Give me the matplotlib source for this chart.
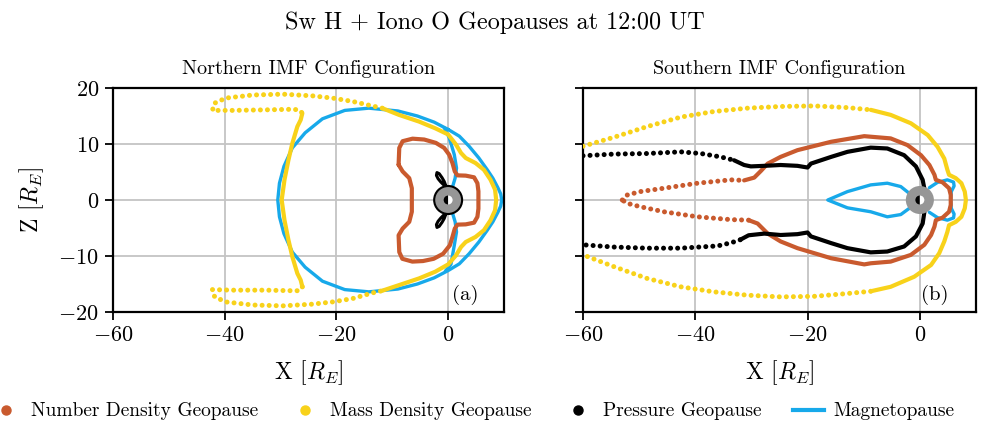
import matplotlib
matplotlib.use("Agg")
import matplotlib.pyplot as plt
from matplotlib.lines import Line2D
from matplotlib.patches import Circle, Wedge


# --------------------------------
# STYLE
# --------------------------------

plt.rcParams["font.family"] = ["cmr10", "DejaVu Serif"]
plt.rcParams["mathtext.fontset"] = "cm"
plt.rcParams["axes.unicode_minus"] = True
plt.rcParams["axes.formatter.use_mathtext"] = True

C_NUM = "#C95A2E"
C_MASS = "#F8D21A"
C_PRES = "#000000"
C_MP = "#17A9EA"
C_EARTH = "#969696"


# --------------------------------
# DATA  (X, Z in Earth radii)
# --------------------------------

x_ticks = [-60, -40, -20, 0]
z_ticks = [-20, -10, 0, 10, 20]

# ---- Northern IMF ----

n_num_x = [-8.87, -8.75, -8.15, -6.37, -4.29, -2.2, -0.71, 0.18, 0.77, 1.19, 1.67, 3.15, 4.64, 5.24, 5.42,
           5.42, 5.42, 5.24, 4.64, 3.15, 1.67, 1.19, 0.77, 0.3, -0.9, -2.6, -4.5, -6.4, -8.2, -8.75,
           -8.87, -8.15, -6.96, -6.5, -6.5, -6.5, -6.96, -8.15, -8.87]
n_num_z = [6.3, 9.3, 10.5, 10.95, 10.8, 10.2, 9.3, 8.1, 6.6, 5.1, 4.4, 4.35, 4.05, 3.0, 1.55,
           0.0, -1.55, -3.0, -4.05, -4.35, -4.4, -5.1, -6.6, -8.1, -9.6, -10.5, -10.9, -11.0, -10.5, -9.3,
           -6.3, -5.1, -3.9, -2.1, 0.0, 2.1, 3.9, 5.1, 6.3]

n_mass_top_x = [-11.8, -13.6, -17.1, -20.7, -24.3, -29.6, -35.0, -39.8, -41.8, -42.2,
                -38.6, -32.6, -27.9, -26.7, -26.1]
n_mass_top_z = [16.4, 16.8, 17.6, 18.2, 18.6, 18.9, 18.75, 18.2, 17.3, 16.0,
                16.0, 16.1, 16.2, 16.1, 15.5]

n_mass_side_x = [-26.1, -26.4, -27.0, -27.9, -28.6, -29.3, -29.8, -29.3, -28.6, -27.9, -27.0, -26.4, -26.1]
n_mass_side_z = [15.5, 14.3, 13.1, 10.1, 7.1, 3.6, 0.0, -3.6, -7.1, -10.1, -13.1, -14.3, -15.5]

n_mass_bot_x = [-26.1, -26.7, -27.9, -32.6, -38.6, -42.2, -41.8, -39.8, -35.0, -29.6,
                -24.3, -20.7, -17.1, -13.6, -11.8]
n_mass_bot_z = [-15.5, -16.2, -16.2, -16.1, -16.1, -16.0, -17.3, -18.2, -18.75, -18.9,
                -18.6, -18.2, -17.6, -16.6, -16.2]

n_mass_day_x = [-11.8, -8.8, -5.2, -2.3, 0.0, 1.4, 2.3, 3.15, 4.9, 6.4, 7.6, 8.4, 8.6,
                8.4, 7.6, 6.4, 4.9, 3.15, 2.3, 1.4, 0.0, -2.3, -5.2, -8.8, -11.8]
n_mass_day_z = [-16.2, -15.2, -14.0, -12.8, -11.5, -9.9, -8.4, -7.5, -6.6, -5.4, -3.6, -1.85, 0.0,
                1.85, 3.6, 5.4, 6.6, 7.5, 8.4, 9.9, 11.7, 12.8, 14.0, 15.2, 16.4]

n_pres_up_x = [-0.4, -0.7, -1.1, -1.6, -2.0, -2.1, -1.8, -1.3, -0.8, -0.4]
n_pres_up_z = [2.5, 3.3, 4.0, 4.7, 4.9, 4.4, 3.8, 3.2, 2.7, 2.5]
n_pres_lo_x = [-0.4, -0.7, -1.1, -1.6, -2.0, -2.1, -1.8, -1.3, -0.8, -0.4]
n_pres_lo_z = [-2.5, -3.3, -4.0, -4.7, -4.9, -4.4, -3.8, -3.2, -2.7, -2.5]

n_mp_x = [0.0, -2.5, -5.5, -9.0, -14.2, -18.5, -22.5, -25.6, -27.9, -29.4, -30.2, -30.5,
          -30.2, -29.4, -27.9, -25.6, -22.5, -18.5, -14.2, -9.0, -5.5, -2.5, 0.0,
          2.0, 3.75, 5.5, 7.0, 8.0, 8.9, 9.4, 9.6,
          9.4, 8.9, 8.0, 7.0, 5.5, 3.75, 2.0, 0.0]
n_mp_z = [12.6, 13.9, 15.0, 15.9, 16.4, 16.0, 14.5, 12.0, 9.3, 6.0, 3.0, 0.0,
          -3.0, -6.0, -9.3, -12.0, -14.5, -16.0, -16.4, -15.9, -15.0, -13.9, -12.6,
          -11.4, -9.6, -7.5, -5.4, -3.9, -2.2, -1.1, 0.0,
          1.1, 2.2, 3.9, 5.4, 7.5, 9.6, 11.4, 12.6]

n_cusp_up_x = [-0.7, 0.2, 1.1, 1.5, 1.25, 0.8]
n_cusp_up_z = [12.9, 11.1, 8.1, 5.7, 3.9, 2.4]
n_cusp_lo_x = [0.8, 1.25, 1.5, 1.1, 0.5, -0.5]
n_cusp_lo_z = [-2.4, -3.9, -5.7, -8.1, -11.5, -12.7]

# ---- Southern IMF ----

s_mass_top_x = [-60.0, -54.5, -48.6, -42.6, -36.7, -30.7, -24.8, -18.8, -12.9, -8.75]
s_mass_top_z = [9.6, 11.2, 13.1, 14.8, 15.8, 16.4, 16.7, 16.8, 16.5, 16.1]

s_mass_day_x = [-8.75, -5.2, -1.6, 1.4, 3.15, 4.35, 4.9, 5.2, 6.4, 7.4, 8.0, 8.2,
                8.0, 7.4, 6.4, 5.2, 4.9, 4.35, 3.45, 2.0, -1.0, -5.2, -8.75]
s_mass_day_z = [16.1, 15.2, 13.7, 11.6, 9.5, 7.4, 5.4, 4.5, 3.9, 3.0, 1.5, 0.0,
                -1.5, -3.0, -3.9, -4.5, -5.7, -7.4, -9.5, -11.6, -13.7, -15.5, -16.3]

s_mass_bot_x = [-8.75, -12.9, -18.8, -24.8, -30.7, -36.7, -42.6, -48.6, -54.5, -60.0]
s_mass_bot_z = [-16.3, -16.7, -17.2, -17.3, -17.0, -16.4, -15.5, -14.0, -11.9, -9.8]

s_num_top_x = [-53.0, -52.1, -49.8, -45.6, -39.6, -33.7, -31.3]
s_num_top_z = [0.0, 0.9, 1.5, 2.1, 3.0, 3.6, 3.5]

s_num_body_x = [-31.3, -29.5, -28.3, -27.1, -24.8, -21.8, -15.8, -9.9, -8.75, -5.2, -2.2, 0.2, 1.7, 2.6,
                2.85, 4.05, 5.2, 5.5, 5.5, 5.5, 5.2, 4.05, 2.85, 2.6, 2.0, 0.8, -1.6, -5.2, -8.75,
                -9.9, -15.8, -21.8, -24.8, -27.1, -28.9, -30.5]
s_num_body_z = [3.5, 4.0, 5.2, 6.5, 7.7, 8.9, 10.4, 11.4, 11.3, 11.0, 9.8, 8.0, 6.25, 4.5,
                3.6, 3.15, 2.1, 0.9, 0.0, -0.9, -2.1, -3.15, -3.6, -4.75, -6.25, -8.0, -9.8, -11.0, -11.3,
                -11.5, -10.4, -8.6, -7.4, -6.0, -4.2, -3.6]

s_num_bot_x = [-30.5, -33.7, -39.6, -45.6, -49.8, -52.1, -53.0]
s_num_bot_z = [-3.6, -3.5, -3.0, -2.1, -1.2, -0.6, 0.0]

s_pres_top_x = [-60.0, -54.5, -48.6, -42.6, -39.0, -35.5, -33.1]
s_pres_top_z = [7.9, 8.2, 8.3, 8.6, 8.3, 7.7, 7.1]

s_pres_body_x = [-33.1, -31.3, -30.1, -27.7, -24.8, -21.8, -20.0, -19.4, -15.8, -12.9, -8.75, -5.8, -2.8,
                 -0.7, 0.5, 0.9, 0.95, 0.9, 0.5, -0.7, -2.8, -5.8, -8.75, -12.9, -15.8, -19.4, -20.0,
                 -21.8, -24.8, -27.7, -30.5, -32.0]
s_pres_body_z = [7.1, 6.25, 6.0, 6.1, 6.25, 6.1, 5.8, 6.5, 7.7, 8.6, 9.35, 9.2, 8.0,
                 6.0, 3.6, 1.5, 0.0, -1.5, -4.2, -6.5, -8.3, -9.2, -9.35, -8.6, -7.7, -6.5, -5.8,
                 -6.1, -6.25, -6.0, -6.3, -7.1]

s_pres_bot_x = [-32.0, -33.5, -36.0, -42.6, -48.6, -54.5, -60.0]
s_pres_bot_z = [-7.1, -7.6, -8.2, -8.6, -8.6, -8.4, -8.0]

s_mp_tail_x = [-1.9, -3.4, -5.8, -8.75, -12.9, -16.4, -12.9, -8.75, -5.8, -3.4, -1.9]
s_mp_tail_z = [1.2, 2.4, 3.0, 2.7, 1.5, 0.0, -1.4, -2.1, -3.0, -2.6, -1.5]

s_mp_day_x = [1.7, 3.15, 4.9, 6.0, 6.1, 5.6, 5.5, 5.6, 6.1, 6.0, 4.9, 3.15, 1.7]
s_mp_day_z = [2.2, 3.15, 3.6, 3.2, 2.5, 1.5, 0.0, -1.5, -2.5, -3.2, -3.6, -3.15, -2.2]


# --------------------------------
# HELPERS
# --------------------------------

def solid(ax, x, z, color, lw=3.0, zorder=3):
    ax.plot(x, z, color=color, lw=lw, zorder=zorder,
            solid_capstyle="round", solid_joinstyle="round")


def dotted(ax, x, z, color, zorder=3):
    ax.plot(x, z, color=color, lw=3.6, zorder=zorder,
            linestyle=(0, (0.01, 1.4)), dash_capstyle="round")


def earth(ax, edge):
    ax.add_patch(Circle((0, 0), 2.5, facecolor=C_EARTH, edgecolor=edge,
                        lw=1.5, zorder=6))
    ax.add_patch(Wedge((0, 0), 0.8, 90, 270, facecolor="black",
                       edgecolor="none", zorder=7))
    ax.add_patch(Wedge((0, 0), 0.8, -90, 90, facecolor="white",
                       edgecolor="none", zorder=7))


def style_axes(ax, show_ylabels):
    ax.set_xlim(-60, 10)
    ax.set_ylim(-20, 20)
    ax.set_xticks(x_ticks)
    ax.set_yticks(z_ticks)
    ax.grid(True, color="#c4c4c4", lw=1.3)
    ax.tick_params(direction="out", length=6, width=1.3, labelsize=16, pad=4)
    for s in ax.spines.values():
        s.set_linewidth(1.6)
    ax.set_xlabel(r"X $[R_E]$", fontsize=17, labelpad=9)
    if show_ylabels:
        ax.set_ylabel(r"Z $[R_E]$", fontsize=17, labelpad=9)
    else:
        ax.set_yticklabels([])


# --------------------------------
# FIGURE
# --------------------------------

fig = plt.figure(figsize=(9.89, 4.23), dpi=100)

ax1 = fig.add_axes([113 / 989, 111 / 423, 391 / 989, 224 / 423])
ax2 = fig.add_axes([583 / 989, 111 / 423, 393 / 989, 224 / 423])

# northern
solid(ax1, n_mp_x, n_mp_z, C_MP, lw=2.4, zorder=2)
solid(ax1, n_cusp_up_x, n_cusp_up_z, C_MP, lw=2.4, zorder=2)
solid(ax1, n_cusp_lo_x, n_cusp_lo_z, C_MP, lw=2.4, zorder=2)

dotted(ax1, n_mass_top_x, n_mass_top_z, C_MASS)
solid(ax1, n_mass_side_x, n_mass_side_z, C_MASS)
dotted(ax1, n_mass_bot_x, n_mass_bot_z, C_MASS)
solid(ax1, n_mass_day_x, n_mass_day_z, C_MASS)

solid(ax1, n_num_x, n_num_z, C_NUM, zorder=4)

solid(ax1, n_pres_up_x, n_pres_up_z, C_PRES, lw=2.2, zorder=5)
solid(ax1, n_pres_lo_x, n_pres_lo_z, C_PRES, lw=2.2, zorder=5)

earth(ax1, "black")

# southern
solid(ax2, s_mp_tail_x, s_mp_tail_z, C_MP, lw=2.4, zorder=2)
solid(ax2, s_mp_day_x, s_mp_day_z, C_MP, lw=2.4, zorder=2)

dotted(ax2, s_mass_top_x, s_mass_top_z, C_MASS)
solid(ax2, s_mass_day_x, s_mass_day_z, C_MASS)
dotted(ax2, s_mass_bot_x, s_mass_bot_z, C_MASS)

dotted(ax2, s_num_top_x, s_num_top_z, C_NUM, zorder=4)
solid(ax2, s_num_body_x, s_num_body_z, C_NUM, zorder=4)
dotted(ax2, s_num_bot_x, s_num_bot_z, C_NUM, zorder=4)

dotted(ax2, s_pres_top_x, s_pres_top_z, C_PRES, zorder=5)
solid(ax2, s_pres_body_x, s_pres_body_z, C_PRES, zorder=5)
dotted(ax2, s_pres_bot_x, s_pres_bot_z, C_PRES, zorder=5)

earth(ax2, "none")

style_axes(ax1, True)
style_axes(ax2, False)

ax1.text(0.5, 1.085, "Northern IMF Configuration", transform=ax1.transAxes,
         ha="center", va="center", fontsize=14.5)
ax2.text(0.5, 1.085, "Southern IMF Configuration", transform=ax2.transAxes,
         ha="center", va="center", fontsize=14.5)

ax1.text(0.90, 0.076, "(a)", transform=ax1.transAxes,
         ha="center", va="center", fontsize=15)
ax2.text(0.896, 0.076, "(b)", transform=ax2.transAxes,
         ha="center", va="center", fontsize=15)

fig.text(0.5, 1 - 23 / 423, "Sw H + Iono O Geopauses at 12:00 UT",
         ha="center", va="center", fontsize=17.4)

# legend
handles = [
    Line2D([], [], color=C_NUM, marker="o", ls="none", ms=6.5),
    Line2D([], [], color=C_MASS, marker="o", ls="none", ms=6.5),
    Line2D([], [], color=C_PRES, marker="o", ls="none", ms=6.5),
    Line2D([], [], color=C_MP, lw=3),
]
labels = [
    "Number Density Geopause",
    "Mass Density Geopause",
    "Pressure Geopause",
    "Magnetopause",
]

fig.legend(handles, labels, loc="lower left", bbox_to_anchor=(-10 / 989, 0.006),
           ncol=4, frameon=False, fontsize=14, handlelength=1.6,
           handletextpad=0.5, columnspacing=1.6, borderpad=0, borderaxespad=0)

fig.savefig("out.png", dpi=100)
